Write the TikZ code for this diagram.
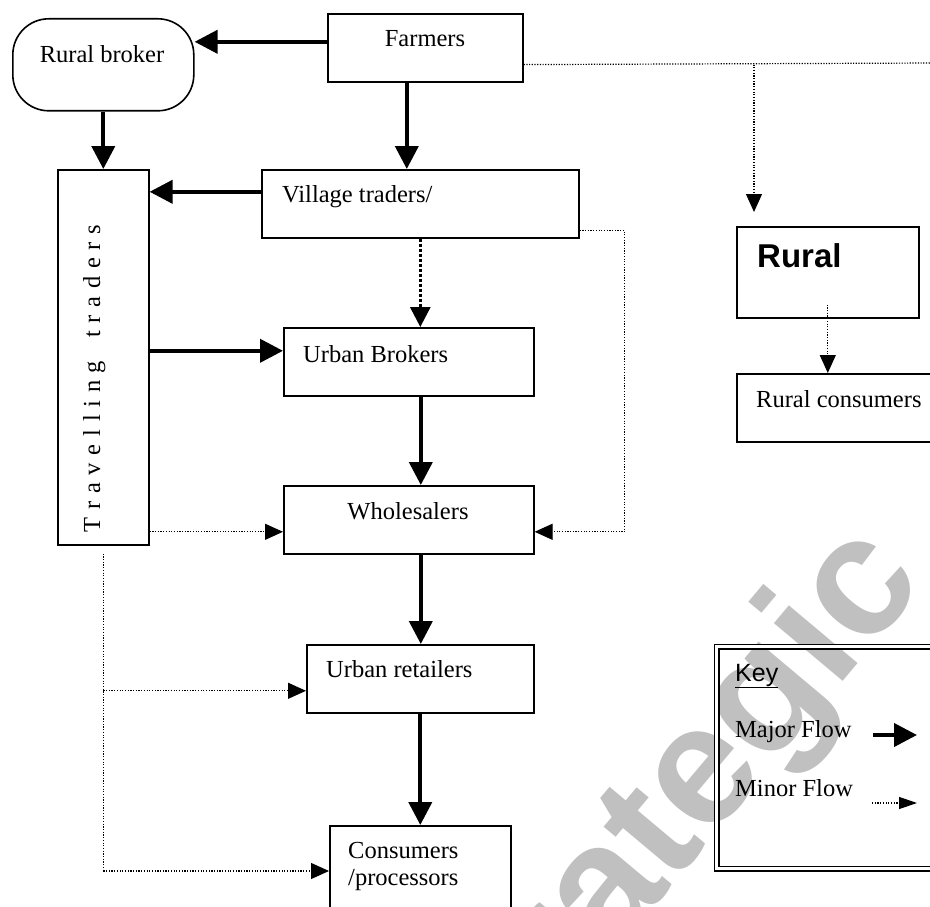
\documentclass[tikz,border=0pt]{standalone}
\usepackage{fontspec}
\setmainfont{Liberation Serif}
\setsansfont{Liberation Sans}
\usetikzlibrary{arrows.meta,calc}
\definecolor{wmgray}{HTML}{C0C0C0}
\newcommand\lsp{\hspace{7.7pt}}
\begin{document}
\begin{tikzpicture}[x=1pt,y=-1pt,
  box/.style={draw,line width=1.6pt,rectangle,inner sep=0pt,anchor=north west},
  txt/.style={inner sep=0pt,font=\fontsize{24.5}{28}\selectfont},
  major/.style={line width=4pt,-{Triangle[length=23pt,width=23pt]}},
  minorline/.style={line width=1.2pt,dash pattern=on 1.2pt off 1.5pt},
  minor/.style={minorline,-{Triangle[length=18pt,width=16pt]}},
  thickdot/.style={line width=3pt,dash pattern=on 3pt off 2pt,-{Triangle[length=20pt,width=20pt]}},
]
\useasboundingbox (0,0) rectangle (930,907);
\clip (0,0) rectangle (930,907);

% watermark
\node[rotate=50,text=wmgray,inner sep=0pt,anchor=base east,font=\sffamily\bfseries\fontsize{170}{170}\selectfont] (wm) at (927,582) {Strategic};

% boxes
\node[box,minimum width=181pt,minimum height=92pt,rounded corners=36pt] (rb) at (12,18) {};
\node[box,minimum width=195pt,minimum height=68pt] (farm) at (327,13) {};
\node[box,minimum width=317pt,minimum height=68pt] (vil) at (261,169) {};
\node[box,minimum width=91pt,minimum height=375pt] (tt) at (57,169) {};
\node[box,minimum width=250pt,minimum height=68pt] (ub) at (283,327) {};
\node[box,minimum width=250pt,minimum height=68pt] (wh) at (283,485) {};
\node[box,minimum width=227pt,minimum height=68pt] (ur) at (306,644) {};
\node[box,minimum width=181pt,minimum height=120pt] (cp) at (329,825) {};
\node[box,minimum width=182pt,minimum height=91pt] (rural) at (736,226) {};
\node[box,minimum width=240pt,minimum height=68pt] (rc) at (736,373) {};
\node[draw,double,line width=1.4pt,double distance=3pt,minimum width=260pt,minimum height=222pt,anchor=north west,inner sep=0pt] (key) at (716,646) {};

% labels
\node[txt,anchor=base] (farmT) at (425,47) {Farmers};
\node[txt,anchor=base] (rbT) at (102,63) {Rural broker};
\node[txt,anchor=base west] (vilT) at (282,202) {Village traders/};
\node[txt,anchor=base west] (ubT) at (303,362) {Urban Brokers};
\node[txt,anchor=base] (whT) at (408,519) {Wholesalers};
\node[txt,anchor=base west] (urT) at (326,677) {Urban retailers};
\node[txt,anchor=base west] (cpT1) at (348,858) {Consumers};
\node[txt,anchor=base west] (cpT2) at (348,885) {/processors};
\node[txt,anchor=base west] (rcT) at (756,407) {Rural consumers};
\node[inner sep=0pt,anchor=base west,font=\sffamily\bfseries\fontsize{33}{36}\selectfont] (ruralT) at (757,267) {Rural};
\node[inner sep=0pt,anchor=base west,font=\sffamily\fontsize{25}{28}\selectfont] (keyT) at (735,681) {\underline{Key}};
\node[txt,anchor=base west] (majT) at (735,737) {Major Flow};
\node[txt,anchor=base west] (minT) at (735,796) {Minor Flow};
\node[txt,rotate=90,anchor=base] (ttT) at (100,378.5) {T\lsp r\lsp a\lsp v\lsp e\lsp l\lsp l\lsp i\lsp n\lsp g\hspace{23pt}t\lsp r\lsp a\lsp d\lsp e\lsp r\lsp s};

% major connectors
\draw[major] ([yshift=6pt]farm.west) -- ([yshift=6pt]farm.west -| rb.east);
\draw[major] ([xshift=-18.5pt]farm.south) -- ([xshift=-18.5pt]farm.south |- vil.north);
\draw[major] (rb.south) -- (rb.south |- tt.north);
\draw[major] ([yshift=12pt]vil.west) -- ([yshift=12pt]vil.west -| tt.east);
\draw[major] ([yshift=6.5pt]tt.east) -- ([yshift=6.5pt]tt.east -| ub.west);
\draw[thickdot] (vil.south) -- (vil.south |- ub.north);
\draw[major] ([xshift=12pt]ub.south) -- ([xshift=12pt]ub.south |- wh.north);
\draw[major] ([xshift=12pt]wh.south) -- ([xshift=12pt]wh.south |- ur.north);
\draw[major] (ur.south) -- (ur.south |- cp.north);

% minor connectors
\draw[minor] ([yshift=-12pt]wh.west -| tt.east) -- ([yshift=-12pt]wh.west);
\draw[minor] ([yshift=8pt]vil.south east) -- ++(45,0) |- ([yshift=-12pt]wh.east);
\coordinate (ttd) at ([yshift=-8pt]tt.south);
\coordinate (cpin) at ($(cp.north west)+(0,46)$);
\coordinate (urin) at ($(ur.west)+(0,12)$);
\draw[minorline] (ttd) -- (ttd |- cpin);
\draw[minor] (ttd |- cpin) -- (cpin);
\draw[minor] (ttd |- urin) -- (urin);
\coordinate (fr) at ($(farm.south east)+(0,-18)$);
\coordinate (edge) at (935,63);
\draw[minorline] (fr) -- (edge);
\coordinate (rtop) at ($(rural.north west)+(18,-14)$);
\draw[minor] (rtop |- fr) -- (rtop);
\draw[minor] ($(rural.south)+(0,-14)$) -- (rural.south |- rc.north);

% key arrows
\coordinate (mj1) at (873,735);
\coordinate (mj2) at (917,735);
\draw[major] (mj1) -- (mj2);
\coordinate (mn1) at (872,803);
\coordinate (mn2) at (917,803);
\draw[minorline,-{Triangle[length=18pt,width=12pt]}] (mn1) -- (mn2);
\end{tikzpicture}
\end{document}
